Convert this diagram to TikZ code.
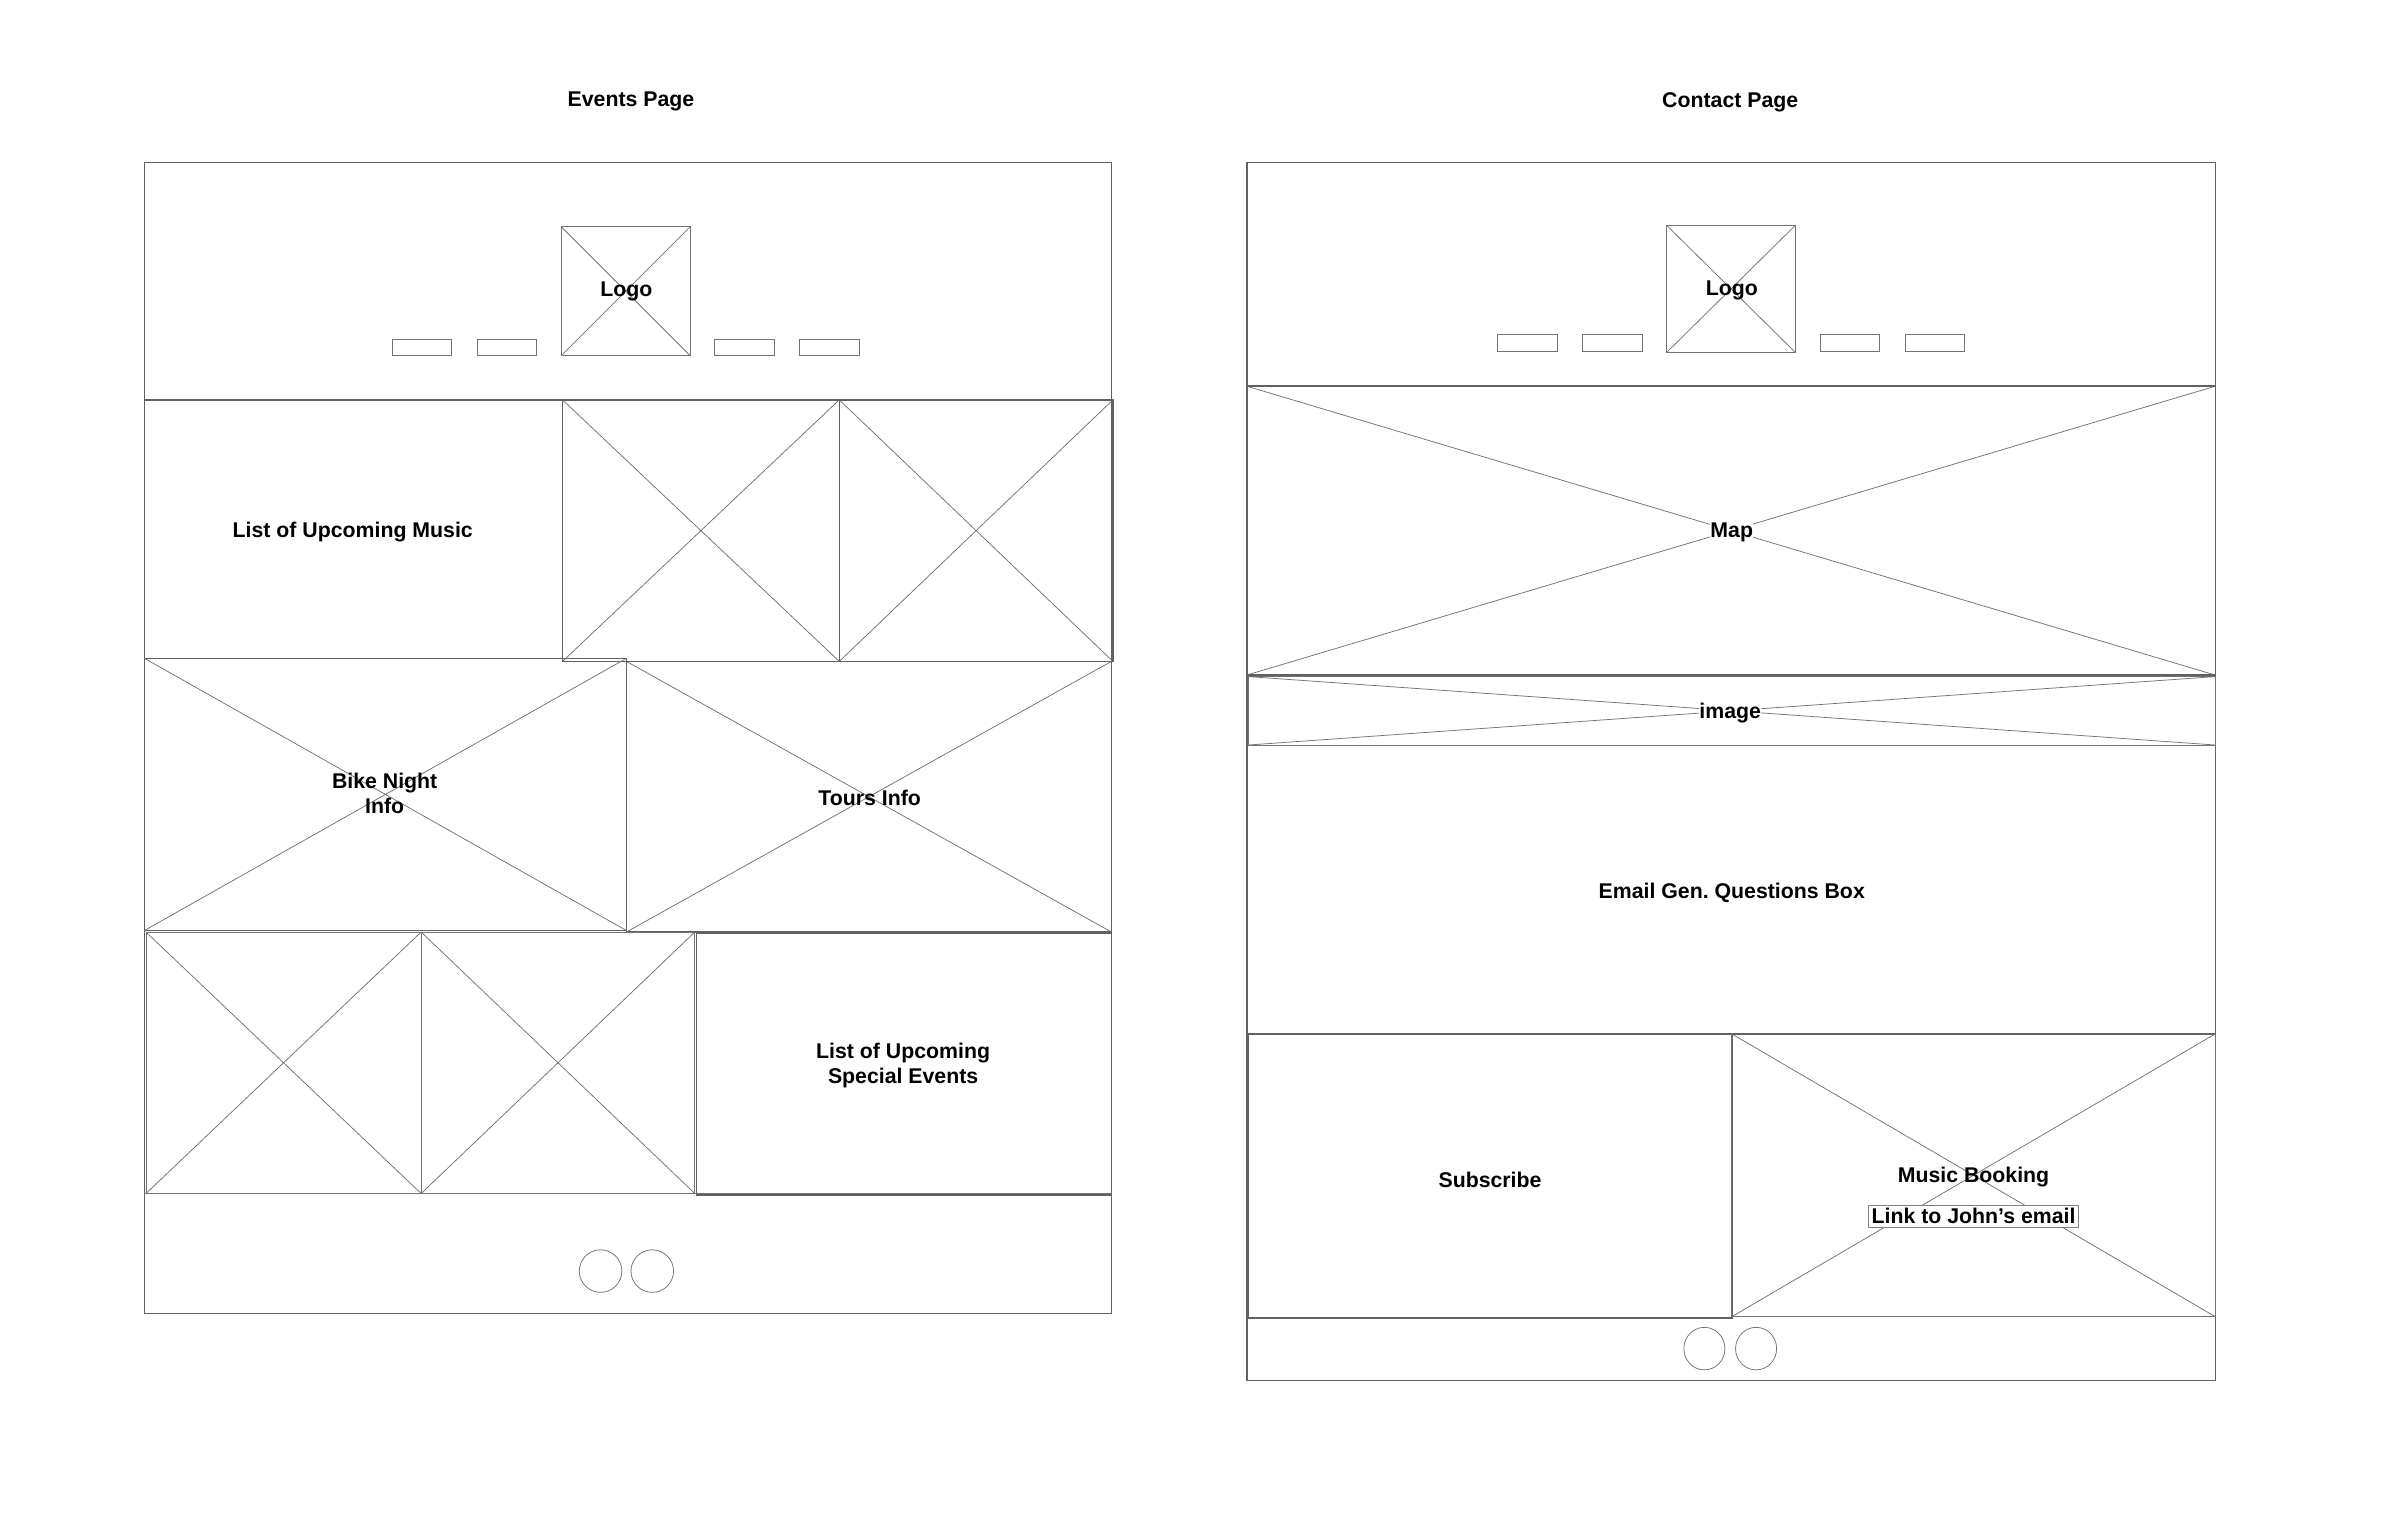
\documentclass[tikz,border=0pt]{standalone}
\usepackage{fontspec}
\setmainfont{Liberation Sans}
\frenchspacing
\begin{document}
\begin{tikzpicture}[x=1pt,y=-1pt,
  frame/.style={draw=black!62, line width=1pt},
  thin/.style={draw=black!55, line width=0.5pt},
  lbl/.style={font=\fontsize{14}{16.5}\selectfont\bfseries, align=center, inner sep=1pt, yshift=-2pt},
  navbtn/.style={draw=black!55, line width=0.5pt}]
\useasboundingbox (0,0) rectangle (1568,1010);
\newcommand\xbox[4]{%
  \draw[thin] (#1,#2) -- (#3,#4) (#1,#4) -- (#3,#2);
  \draw[frame] (#1,#2) rectangle (#3,#4);}
\newcommand\xboxthin[4]{%
  \draw[thin] (#1,#2) -- (#3,#4) (#1,#4) -- (#3,#2);
  \draw[thin] (#1,#2) rectangle (#3,#4);}

% ---------------- Titles
\node[lbl] (tEvents) at (415,65) {Events Page};
\node[lbl] (tContact) at (1138,65) {Contact Page};

% ================= EVENTS PAGE =================
\draw[frame] (95,107) rectangle (731,864);
% header
\draw[frame] (95,263) -- (731,263);
\xboxthin{369}{149}{454}{234}
\node[lbl] (logoA) at (412,190) {Logo};
\foreach \a in {258,314,470,526}{\draw[navbtn] (\a,223) rectangle ++(39,11);}
% row 1
\node[lbl] (musicA) at (232,348) {List of Upcoming Music};
\xbox{370}{263}{552}{435}
\xbox{552}{263}{732}{435}
% row 2
\xbox{95}{433}{412}{612}
\xbox{412}{435}{731}{613}
\node[lbl] (bike) at (253,520) {Bike Night\\Info};
\node[lbl] (tours) at (572,523) {Tours Info};
% row 3
\xboxthin{96}{613}{277}{785}
\xboxthin{277}{613}{457}{785}
\draw[frame] (458,614) rectangle (731,786);
\node[lbl] (special) at (594,699) {List of Upcoming\\Special Events};
% footer
\draw[thin] (95,785) -- (731,785);
\draw[thin] (395,836) ellipse (14 and 14);
\draw[thin] (429,836) ellipse (14 and 14);

% ================= CONTACT PAGE =================
\draw[frame] (820,107) rectangle (1457,908);
% header
\xboxthin{1096}{148}{1181}{232}
\node[lbl] (logoB) at (1139,189) {Logo};
\foreach \a in {985,1041,1197,1253}{\draw[navbtn] (\a,220) rectangle ++(39,11);}
% map
\xbox{820}{254}{1457}{444}
\node[lbl, fill=white, inner sep=0pt] (map) at (1139,348) {Map};
% image
\xboxthin{821}{445}{1457}{490}
\node[lbl, fill=white, inner sep=0pt] (img) at (1138,467) {image};
% email box
\node[lbl] (email) at (1139,585) {Email Gen. Questions Box};
% subscribe
\draw[frame] (821,680) rectangle (1139,867);
\node[lbl] (subs) at (980,774) {Subscribe};
% music booking
\xboxthin{1139}{680}{1457}{866}
\draw[frame] (1139,680) -- (1457,680);
\node[lbl] (booking) at (1298,772) {Music Booking};
\node[lbl, draw=black!50, line width=0.4pt, fill=white, inner sep=2pt] (link) at (1298,798) {Link to John’s email};
% footer circles
\draw[thin] (1121,887) ellipse (13.5 and 14);
\draw[thin] (1155,887) ellipse (13.5 and 14);
\end{tikzpicture}
\end{document}
